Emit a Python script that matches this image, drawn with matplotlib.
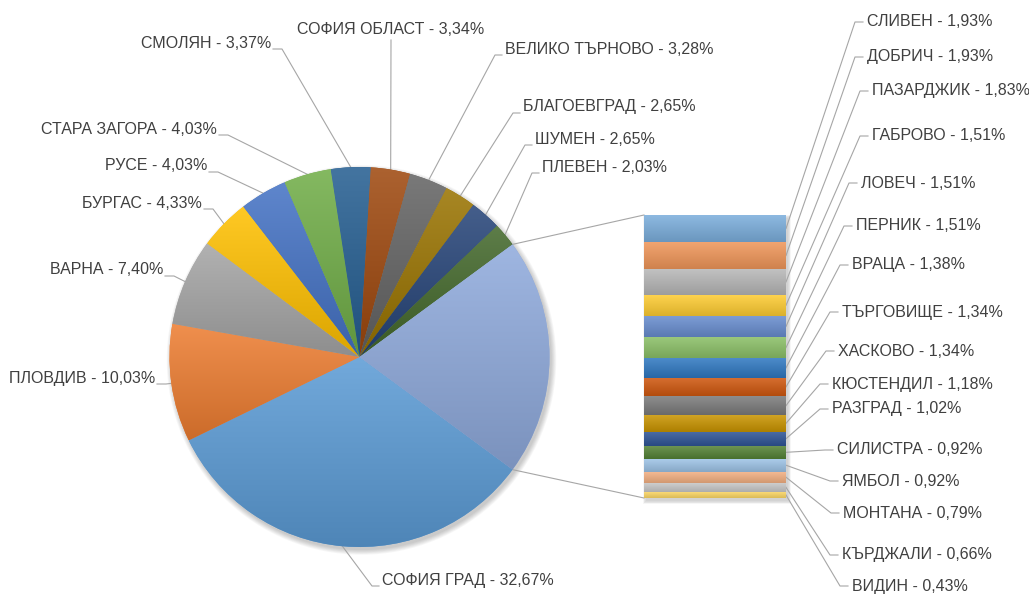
import numpy as np
import matplotlib
matplotlib.use("Agg")
import matplotlib.pyplot as plt
import matplotlib.colors as mcolors
from matplotlib import font_manager
from matplotlib.patches import Circle, Rectangle

# Data: main pie slices and the split-off "bar of pie" items
pie_names = ["СОФИЯ ГРАД", "ПЛОВДИВ", "ВАРНА", "БУРГАС", "РУСЕ", "СТАРА ЗАГОРА",
             "СМОЛЯН", "СОФИЯ ОБЛАСТ", "ВЕЛИКО ТЪРНОВО", "БЛАГОЕВГРАД", "ШУМЕН", "ПЛЕВЕН"]
pie_values = [32.67, 10.03, 7.40, 4.33, 4.03, 4.03, 3.37, 3.34, 3.28, 2.65, 2.65, 2.03]

bar_names = ["СЛИВЕН", "ДОБРИЧ", "ПАЗАРДЖИК", "ГАБРОВО", "ЛОВЕЧ", "ПЕРНИК", "ВРАЦА",
             "ТЪРГОВИЩЕ", "ХАСКОВО", "КЮСТЕНДИЛ", "РАЗГРАД", "СИЛИСТРА", "ЯМБОЛ",
             "МОНТАНА", "КЪРДЖАЛИ", "ВИДИН"]
bar_values = [1.93, 1.93, 1.83, 1.51, 1.51, 1.51, 1.38, 1.34, 1.34, 1.18, 1.02,
              0.92, 0.92, 0.79, 0.66, 0.43]

pie_colors = ["#5B9BD5", "#ED7D31", "#A5A5A5", "#FFC000", "#4472C4", "#70AD47",
              "#255E91", "#9E480E", "#636363", "#997300", "#264478", "#43682B"]
other_color = "#8FAADC"
bar_colors = ["#7CAFDD", "#F1975A", "#B7B7B7", "#FFCD33", "#698ED0", "#8CC168",
              "#2F78C1", "#D0580F", "#7B7B7B", "#C99400", "#2F5597", "#548235",
              "#9DC3E6", "#F4B183", "#C9C9C9", "#FFD966"]

# Layout (pixels, y measured from top of the image)
W, H = 1029, 594
CX, CY, R = 359.5, 357, 190
BAR_L, BAR_T, BAR_R, BAR_B = 644, 215, 786, 498

pie_label_pos = [(382, 580, "left"), (155, 378, "right"), (163, 270, "right"),
                 (202, 203, "right"), (207, 166, "right"), (217, 129, "right"),
                 (271, 43, "right"), (391, 30, "center"), (505, 49, "left"),
                 (523, 107, "left"), (535, 139, "left"), (542, 167, "left")]
bar_label_pos = [(867, 22), (867, 57), (872, 91), (872, 136), (861, 183), (856, 226),
                 (852, 265), (842, 312), (838, 351), (832, 384), (832, 409),
                 (837, 450), (842, 481), (843, 513), (842, 555), (852, 586)]

TXT = "#404040"
LINE = "#A6A6A6"

names = {f.name for f in font_manager.fontManager.ttflist}
if "Liberation Sans Narrow" in names:
    FONT, FS = "Liberation Sans Narrow", 13
else:
    FONT, FS = "Liberation Sans", 11.5


def fmt(name, v):
    return f"{name} - {v:.2f}%".replace(".", ",")


def shade(axis, patch, color, extent):
    # vertical gradient, lighter on top, darker at the bottom
    c = np.array(mcolors.to_rgb(color))
    top = c + (1 - c) * 0.14
    bot = c * 0.86
    t = np.linspace(0, 1, 64)[:, None]
    img = (top * (1 - t) + bot * t)[:, None, :]
    im = axis.imshow(img, extent=extent, origin="upper", aspect="auto",
                     interpolation="bilinear", zorder=patch.get_zorder() + 0.1)
    im.set_clip_path(patch)


fig = plt.figure(figsize=(W / 100, H / 100), dpi=100)
ax = fig.add_axes([0, 0, 1, 1])

other = sum(bar_values)
values = pie_values + [other]
colors = pie_colors + [other_color]
start = -other / 100 * 360 / 2

# soft shadow behind the pie
for i in range(7):
    ax.add_patch(Circle((CX + 2, H - CY - 3), R + 0.8 * i, color="k", alpha=0.03,
                        lw=0, zorder=1))

wedges, _ = ax.pie(values, colors=colors, startangle=start, counterclock=False,
                   center=(CX, H - CY), radius=R, wedgeprops=dict(linewidth=0))
for w, c in zip(wedges, colors):
    w.set_zorder(2)
    v = w.get_path().vertices
    shade(ax, w, c, [v[:, 0].min(), v[:, 0].max(), v[:, 1].min(), v[:, 1].max()])

ax.set_xlim(0, W)
ax.set_ylim(0, H)
ax.set_aspect("auto")
ax.axis("off")

# bar of pie
bax = fig.add_axes([BAR_L / W, (H - BAR_B) / H, (BAR_R - BAR_L) / W, (BAR_B - BAR_T) / H])
bottoms = other - np.cumsum(bar_values)
bars = bax.bar(0, bar_values, bottom=bottoms, width=1, color=bar_colors, linewidth=0,
               zorder=2)
for b, c in zip(bars, bar_colors):
    x, y, bw, bh = b.get_x(), b.get_y(), b.get_width(), b.get_height()
    shade(bax, b, c, [x, x + bw, y, y + bh])
bax.set_xlim(-0.5, 0.5)
bax.set_ylim(0, other)
bax.axis("off")

# shadow for the bar drawn on the main axes
for i in range(5):
    d = 0.8 * i
    ax.add_patch(Rectangle((BAR_L + 2 - d, H - BAR_B - 3 - d), BAR_R - BAR_L + 2 * d,
                           BAR_B - BAR_T + 2 * d, color="k", alpha=0.035, lw=0, zorder=1))


def to_main(p):
    return ax.transData.inverted().transform(bax.transData.transform(p))


# connector lines from the "other" slice to the bar
ow = wedges[-1]
pts = [(CX + R * np.cos(np.deg2rad(a)), H - CY + R * np.sin(np.deg2rad(a)))
       for a in (ow.theta1, ow.theta2)]
pts.sort(key=lambda p: -p[1])
top_corner = to_main((-0.5, other))
bot_corner = to_main((-0.5, 0))
ax.plot([pts[0][0], top_corner[0]], [pts[0][1], top_corner[1]], color=LINE, lw=0.8, zorder=1.5)
ax.plot([pts[1][0], bot_corner[0]], [pts[1][1], bot_corner[1]], color=LINE, lw=0.8, zorder=1.5)

# pie labels with leader lines
for w, name, v, (x, y, ha) in zip(wedges, pie_names, pie_values, pie_label_pos):
    mid = np.deg2rad((w.theta1 + w.theta2) / 2)
    ex, ey = CX + R * np.cos(mid), H - CY + R * np.sin(mid)
    ax.text(x, H - y, fmt(name, v), ha=ha, va="center", fontsize=FS, color=TXT,
            family=FONT, zorder=5)
    if ha == "right":
        xs, ys = [x + 2, x + 11, ex], [H - y - 6, H - y - 6, ey]
    elif ha == "left":
        xs, ys = [x - 3, x - 10, ex], [H - y - 6, H - y - 6, ey]
    else:
        xs, ys = [x, ex], [H - y - 10, ey]
    ax.plot(xs, ys, color=LINE, lw=0.8, zorder=1.5)

# bar labels with leader lines
for b, name, v, (x, y) in zip(bars, bar_names, bar_values, bar_label_pos):
    sx, sy = to_main((0.5, b.get_y() + b.get_height() / 2))
    ax.text(x, H - y, fmt(name, v), ha="left", va="center", fontsize=FS, color=TXT,
            family=FONT, zorder=5)
    ax.plot([x - 4, x - 12, sx], [H - y, H - y, sy], color=LINE, lw=0.8, zorder=1.5)

ax.set_xlim(0, W)
ax.set_ylim(0, H)

fig.savefig("out.png", dpi=100)
